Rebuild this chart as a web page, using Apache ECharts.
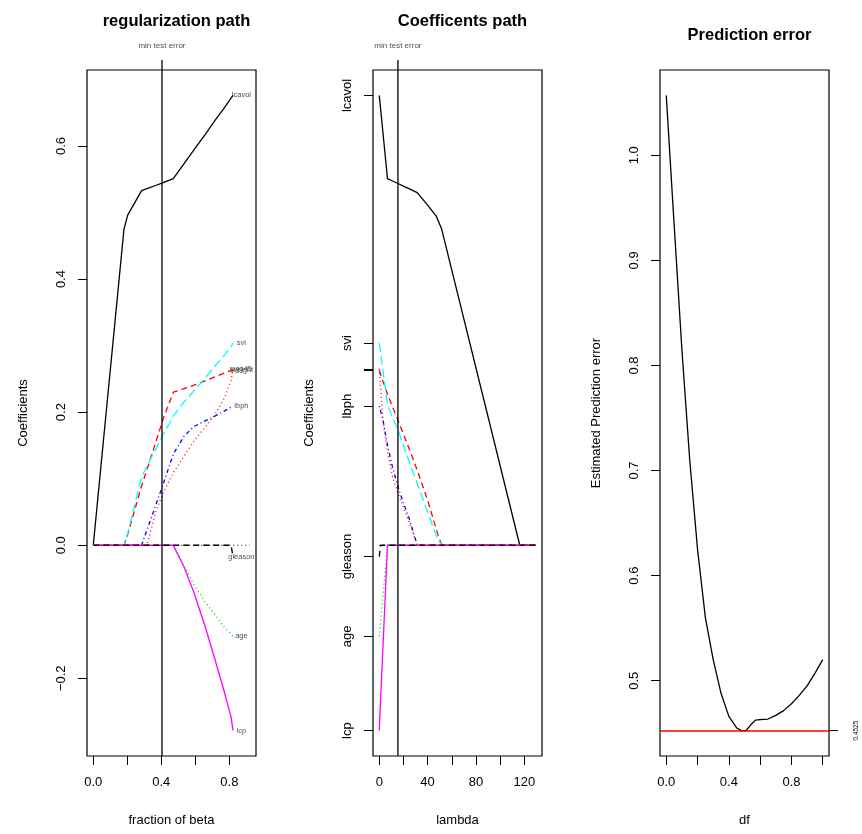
<!DOCTYPE html>
<html><head><meta charset="utf-8">
<script src="https://cdn.jsdelivr.net/npm/echarts@6/dist/echarts.min.js"></script>
<style>html,body{margin:0;padding:0;background:#fff}#c{width:862px;height:834px}</style>
</head><body><div id="c"></div>
<script>
// ---------- DATA ----------
const varNames = ['lcavol','lweight','age','lbph','svi','lcp','gleason','pgg45'];

// Panel 1: regularization path (fraction of beta)
const fracGrid   = [0, 0.1806, 0.2024, 0.2841, 0.3159, 0.3700, 0.4112, 0.4706, 0.5341, 0.5918, 0.6576, 0.7147, 0.7724, 0.8100, 0.8218];
const p1_lcavol  = [0, 0.475, 0.496, 0.533, 0.536, 0.541, 0.545, 0.551, 0.5735, 0.594, 0.617, 0.638, 0.658, 0.672, 0.676];
const p1_lweight = [0, 0, 0.016, 0.089, 0.114, 0.157, 0.190, 0.230, 0.2355, 0.2405, 0.247, 0.253, 0.259, 0.2626, 0.263];
const p1_age     = [0, 0, 0, 0, 0, 0, 0, 0, -0.031, -0.059, -0.085, -0.104, -0.124, -0.133, -0.137];
const p1_lbph    = [0, 0, 0, 0, 0.023, 0.062, 0.092, 0.137, 0.164, 0.1785, 0.187, 0.194, 0.202, 0.2075, 0.209];
const p1_svi     = [0, 0, 0.018, 0.103, 0.119, 0.146, 0.166, 0.194, 0.2155, 0.232, 0.251, 0.269, 0.286, 0.298, 0.304];
const p1_lcp     = [0, 0, 0, 0, 0, 0, 0, 0, -0.033, -0.071, -0.122, -0.171, -0.222, -0.258, -0.2785];
const p1_gleason = [0, 0, 0, 0, 0, 0, 0, 0, 0, 0, 0, 0, 0, 0, -0.017];
const p1_pgg45   = [0, 0, 0, 0, 0, 0.052, 0.079, 0.109, 0.134, 0.1565, 0.1775, 0.196, 0.222, 0.247, 0.265];
const p1_zeroLine = [0, 0.92];
const p1_labelX = 0.871;
const p1_minErrFrac = 0.404;
const p1_xTicks = [0, 0.2, 0.4, 0.6, 0.8];
const p1_xLabels = [0, 0.4, 0.8];
const p1_yTicks = [-0.2, 0, 0.2, 0.4, 0.6];

// Panel 2: coefficients path (lambda)
const lamGrid    = [0, 1.2, 3, 6.8, 11, 15.5, 20, 25, 31.4, 40, 47, 51.6, 116.3, 129.5];
const p2_lcavol  = [0.676, 0.654, 0.621, 0.551, 0.5474, 0.5436, 0.5397, 0.5355, 0.530, 0.511, 0.495, 0.4755, 0, 0];
const p2_lweight = [0.263, 0.2565, 0.2467, 0.227, 0.208, 0.188, 0.167, 0.144, 0.113, 0.068, 0.025, 0, 0, 0];
const p2_age     = [-0.137, -0.113, -0.077, 0, 0, 0, 0, 0, 0, 0, 0, 0, 0, 0];
const p2_lbph    = [0.209, 0.201, 0.189, 0.151, 0.117, 0.088, 0.0635, 0.039, 0, 0, 0, 0, 0, 0];
const p2_svi     = [0.304, 0.288, 0.263, 0.212, 0.192, 0.173, 0.150, 0.124, 0.093, 0.050, 0.015, 0, 0, 0];
const p2_lcp     = [-0.2785, -0.229, -0.156, 0, 0, 0, 0, 0, 0, 0, 0, 0, 0, 0];
const p2_gleason = [-0.017, 0, 0, 0, 0, 0, 0, 0, 0, 0, 0, 0, 0, 0];
const p2_pgg45   = [0.265, 0.236, 0.19, 0.140, 0.103, 0.078, 0.057, 0.034, 0, 0, 0, 0, 0, 0];
const p2_zeroLine = [0, 129.5];
const p2_minErrLambda = 15.45;
const p2_xTicks = [0, 20, 40, 60, 80, 100, 120];
const p2_xLabels = [0, 40, 80, 120];
const p2_yTickNames = ['lcavol','svi','lbph','gleason','age','lcp'];

// Panel 3: prediction error (df)
const dfGrid  = [0, 0.05, 0.1, 0.15, 0.2, 0.25, 0.3, 0.35, 0.4, 0.45, 0.48, 0.51, 0.54, 0.57, 0.6, 0.65, 0.7, 0.75, 0.8, 0.85, 0.9, 0.95, 1.0];
const predErr = [1.057, 0.935, 0.815, 0.71, 0.625, 0.56, 0.52, 0.488, 0.466, 0.455, 0.4525, 0.4525, 0.458, 0.4625, 0.463, 0.4635, 0.467, 0.4715, 0.478, 0.486, 0.495, 0.507, 0.520];
const minErr = 0.4525;
const p3_xTicks = [0, 0.2, 0.4, 0.6, 0.8, 1.0];
const p3_xLabels = [0, 0.4, 0.8];
const p3_yTicks = [0.5, 0.6, 0.7, 0.8, 0.9, 1.0];

// ---------- BUILD ----------
const FONT = '"Liberation Sans", Arial, Helvetica, sans-serif';
const styles = {
  lcavol:  {color:'#000000', type:'solid'},
  lweight: {color:'#FF0000', type:[6,4]},
  age:     {color:'#00CD00', type:[1,3]},
  lbph:    {color:'#0000FF', type:[1,3,4,3]},
  svi:     {color:'#00FFFF', type:[9,4]},
  lcp:     {color:'#FF00FF', type:'solid'},
  gleason: {color:'#000000', type:[6,4]},
  pgg45:   {color:'#FF0000', type:[1,3]}
};
const p1 = {lcavol:p1_lcavol, lweight:p1_lweight, age:p1_age, lbph:p1_lbph, svi:p1_svi, lcp:p1_lcp, gleason:p1_gleason, pgg45:p1_pgg45};
const p2 = {lcavol:p2_lcavol, lweight:p2_lweight, age:p2_age, lbph:p2_lbph, svi:p2_svi, lcp:p2_lcp, gleason:p2_gleason, pgg45:p2_pgg45};

function rangeExt(lo, hi, f){ const d = (hi-lo)*f; return [lo-d, hi+d]; }
let allVals = [];
varNames.forEach(n => { allVals = allVals.concat(p1[n], p2[n]); });
const yR = rangeExt(Math.min(...allVals), Math.max(...allVals), 0.04);
const x1R = rangeExt(0, p1_zeroLine[1], 0.04);
const x2R = rangeExt(0, p2_zeroLine[1], 0.04);
const x3R = rangeExt(dfGrid[0], dfGrid[dfGrid.length-1], 0.04);
const y3R = rangeExt(Math.min(...predErr), Math.max(...predErr), 0.04);

const TOP = 70, H = 686, W = 169;
const lefts = [87, 373, 660];
const txt = {fontFamily: FONT, color:'#000'};
const fmtNum = v => (Math.abs(v) < 1e-9 ? 0 : v).toFixed(1).replace('-', '\u2212');

function xAxisBase(gi, r, ticks, labels, name, fmt){
  return {gridIndex: gi, type:'value', min:r[0], max:r[1],
    axisLine:{show:false, onZero:false}, splitLine:{show:false},
    axisTick:{show:true, length:9, customValues:ticks, lineStyle:{color:'#000', width:1}},
    axisLabel:{show:true, customValues:labels, formatter:fmt, margin:20, fontSize:13, ...txt},
    name:name, nameLocation:'middle', nameGap:58, nameTextStyle:{fontSize:13, ...txt}};
}
function yAxisBase(gi, r, ticks, labels, name, fmt){
  return {gridIndex: gi, type:'value', min:r[0], max:r[1],
    axisLine:{show:false, onZero:false}, splitLine:{show:false},
    axisTick:{show:true, length:9, customValues:ticks, lineStyle:{color:'#000', width:1}},
    axisLabel:{show:true, customValues:labels, formatter:fmt, rotate:90, margin:19, fontSize:13, ...txt},
    name:name, nameLocation:'middle', nameGap:57, nameTextStyle:{fontSize:13, ...txt}};
}

const p2LabelVals = p2_yTickNames.map(n => p2[n][0]);
const p2TickVals = varNames.map(n => p2[n][0]);
const nameOfVal = v => { let best = '', bd = 1e9; p2_yTickNames.forEach(n => { const d = Math.abs(p2[n][0]-v); if (d < bd){bd=d; best=n;} }); return best; };

const series = [];
function lineSeries(name, xi, yi, xs, ys, st, w){
  return {name, type:'line', xAxisIndex:xi, yAxisIndex:yi, data: xs.map((x,i)=>[x, ys[i]]),
    showSymbol:false, symbol:'none', silent:true, clip:false,
    lineStyle:{color:st.color, width:w||1.3, type:st.type}};
}
// zero lines
series.push(lineSeries('zero1', 0, 0, p1_zeroLine, [0,0], {color:'#000', type:[1,3]}, 1.2));
series.push(lineSeries('zero2', 1, 1, p2_zeroLine, [0,0], {color:'#000', type:[1,3]}, 1.2));
varNames.forEach(n => {
  series.push(lineSeries(n+'_1', 0, 0, fracGrid, p1[n], styles[n]));
  series.push(lineSeries(n+'_2', 1, 1, lamGrid, p2[n], styles[n]));
});
// end labels panel 1
series.push({type:'scatter', xAxisIndex:0, yAxisIndex:0, symbolSize:1, silent:true,
  itemStyle:{color:'rgba(0,0,0,0)'},
  label:{show:true, position:'inside', formatter:'{b}', fontSize:7.5, fontFamily:FONT, color:'#222'},
  data: varNames.map(n => ({name:n, value:[p1_labelX, p1[n][p1[n].length-1]]}))});
// min test error vertical lines (overlay grids 3 and 4)
[[3, 4, p1_minErrFrac], [4, 5, p2_minErrLambda]].forEach(([xi, yi, xv]) => {
  series.push(lineSeries('vline'+xi, xi, yi, [xv, xv], [0, 1], {color:'#000', type:'solid'}, 1.3));
  series.push({type:'scatter', xAxisIndex:xi, yAxisIndex:yi, symbolSize:1, silent:true,
    itemStyle:{color:'rgba(0,0,0,0)'},
    label:{show:true, position:'top', distance:10, formatter:'min test error', fontSize:8, fontFamily:FONT, color:'#222'},
    data:[[xv, 1]]});
});
// prediction error
series.push({type:'line', xAxisIndex:2, yAxisIndex:2, data: dfGrid.map((x,i)=>[x, predErr[i]]),
  showSymbol:false, symbol:'none', silent:true, smooth:false,
  lineStyle:{color:'#000', width:1.3},
  markLine:{silent:true, symbol:'none', precision:6, label:{show:false},
    lineStyle:{color:'#FF0000', width:1.5, type:'solid'}, data:[{yAxis:minErr}]}});

const option = {
  animation:false, backgroundColor:'#fff',
  title:[
    {text:'regularization path', left:(lefts[0]+W/2), top:8, textAlign:'center', textStyle:{fontSize:16.5, fontWeight:'bold', fontFamily:FONT, color:'#000'}},
    {text:'Coefficents path', left:(lefts[1]+W/2), top:8, textAlign:'center', textStyle:{fontSize:16.5, fontWeight:'bold', fontFamily:FONT, color:'#000'}},
    {text:'Prediction error', left:(lefts[2]+W/2), top:22, textAlign:'center', textStyle:{fontSize:16.5, fontWeight:'bold', fontFamily:FONT, color:'#000'}}
  ],
  grid:[
    {left:lefts[0], top:TOP, width:W, height:H, show:true, borderColor:'#000', borderWidth:1.2, backgroundColor:'transparent'},
    {left:lefts[1], top:TOP, width:W, height:H, show:true, borderColor:'#000', borderWidth:1.2, backgroundColor:'transparent'},
    {left:lefts[2], top:TOP, width:W, height:H, show:true, borderColor:'#000', borderWidth:1.2, backgroundColor:'transparent'},
    {left:lefts[0], top:TOP-10, width:W, height:H+10, show:false},
    {left:lefts[1], top:TOP-10, width:W, height:H+10, show:false}
  ],
  xAxis:[
    xAxisBase(0, x1R, p1_xTicks, p1_xLabels, 'fraction of beta', fmtNum),
    xAxisBase(1, x2R, p2_xTicks, p2_xLabels, 'lambda', v => String(Math.round(v))),
    xAxisBase(2, x3R, p3_xTicks, p3_xLabels, 'df', fmtNum),
    {gridIndex:3, type:'value', min:x1R[0], max:x1R[1], show:false},
    {gridIndex:4, type:'value', min:x2R[0], max:x2R[1], show:false}
  ],
  yAxis:[
    yAxisBase(0, yR, p1_yTicks, p1_yTicks, 'Coefficients', fmtNum),
    yAxisBase(1, yR, p2TickVals, p2LabelVals, 'Coefficients', nameOfVal),
    yAxisBase(2, y3R, p3_yTicks, p3_yTicks, 'Estimated Prediction error', fmtNum),
    {gridIndex:2, type:'value', position:'right', min:y3R[0], max:y3R[1],
      axisLine:{show:false, onZero:false}, splitLine:{show:false},
      axisTick:{show:true, length:9, customValues:[minErr], lineStyle:{color:'#000', width:1}},
      axisLabel:{show:true, customValues:[minErr], formatter: v => v.toFixed(4), rotate:90, margin:24, fontSize:6.5, fontFamily:FONT, color:'#000'}},
    {gridIndex:3, type:'value', min:0, max:1, show:false},
    {gridIndex:4, type:'value', min:0, max:1, show:false}
  ],
  series
};
const chart = echarts.init(document.getElementById('c'), null, {renderer:'canvas'});
chart.setOption(option);
</script></body></html>
